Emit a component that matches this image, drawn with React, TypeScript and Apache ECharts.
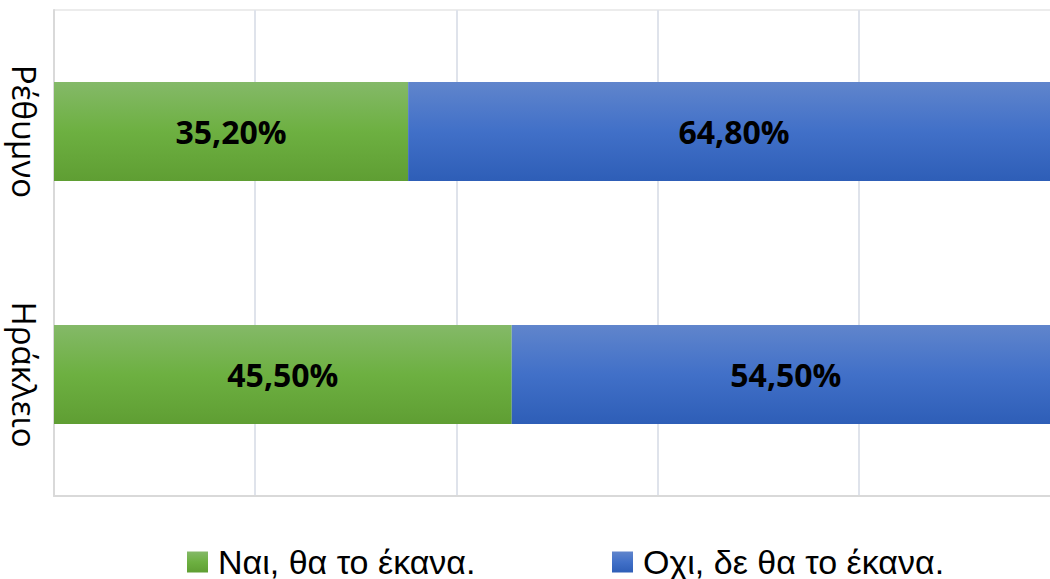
import React, { useEffect, useRef } from "react";
import * as echarts from "echarts";

const categories = ["Ηράκλειο", "Ρέθυμνο"];
const seriesNames = ["Ναι, θα το έκανα.", "Οχι, δε θα το έκανα."];
const yesValues = [45.5, 35.2];
const noValues = [54.5, 64.8];

const fmt = (v: number) => v.toFixed(2).replace(".", ",") + "%";

const green = new echarts.graphic.LinearGradient(0, 0, 0, 1, [
  { offset: 0, color: "#84b968" },
  { offset: 0.5, color: "#6db041" },
  { offset: 1, color: "#5f9e33" },
]);
const blue = new echarts.graphic.LinearGradient(0, 0, 0, 1, [
  { offset: 0, color: "#6085cc" },
  { offset: 0.5, color: "#4170c8" },
  { offset: 1, color: "#2e5eb7" },
]);

export default function App() {
  const ref = useRef<HTMLDivElement>(null);
  useEffect(() => {
    const chart = echarts.init(ref.current!, undefined, { renderer: "svg" });
    const font = "'Open Sans', 'Noto Sans', sans-serif";
    const legendFont = "'Liberation Sans', Arial, sans-serif";
    const labelStyle = {
      show: true,
      position: "inside",
      formatter: (p: any) => fmt(p.value),
      fontFamily: font,
      fontWeight: "bold",
      fontSize: 32,
      color: "#000",
    };
    const legendBase = {
      top: 545,
      padding: 0,
      itemWidth: 21,
      itemHeight: 21,
      icon: "rect",
      textStyle: {
        fontFamily: legendFont,
        fontSize: 34,
        lineHeight: 28,
        color: "#000",
        padding: [0, 0, 0, 5],
      },
    };
    chart.setOption({
      animation: false,
      grid: {
        left: 54,
        top: 10,
        width: 1006,
        height: 486,
        outerBoundsMode: "none",
        containLabel: false,
        show: true,
        borderColor: "#d9d9d9",
        borderWidth: 1,
      },
      legend: [
        { ...legendBase, left: 187, data: [seriesNames[0]] },
        { ...legendBase, left: 612, data: [seriesNames[1]] },
      ],
      xAxis: {
        type: "value",
        min: 0,
        max: 100,
        interval: 20,
        axisLabel: { show: false },
        axisTick: { show: false },
        axisLine: { show: true, lineStyle: { color: "#d9d9d9", width: 2 } },
        splitLine: { show: true, lineStyle: { color: "#dfe3eb", width: 2 } },
      },
      yAxis: {
        type: "category",
        data: categories,
        axisTick: { show: false },
        axisLine: { show: true, lineStyle: { color: "#d9d9d9", width: 2 } },
        axisLabel: {
          rotate: -90,
          margin: 13,
          fontFamily: font,
          fontSize: 33,
          color: "#000",
        },
      },
      series: [
        {
          name: seriesNames[0],
          type: "bar",
          stack: "total",
          barWidth: 99,
          data: yesValues,
          itemStyle: { color: green },
          label: labelStyle,
        },
        {
          name: seriesNames[1],
          type: "bar",
          stack: "total",
          barWidth: 99,
          data: noValues,
          itemStyle: { color: blue },
          label: labelStyle,
        },
      ],
    });
    return () => chart.dispose();
  }, []);
  return (
    <div
      ref={ref}
      style={{ position: "fixed", left: 0, top: 0, width: 1050, height: 579, background: "#fff" }}
    />
  );
}
